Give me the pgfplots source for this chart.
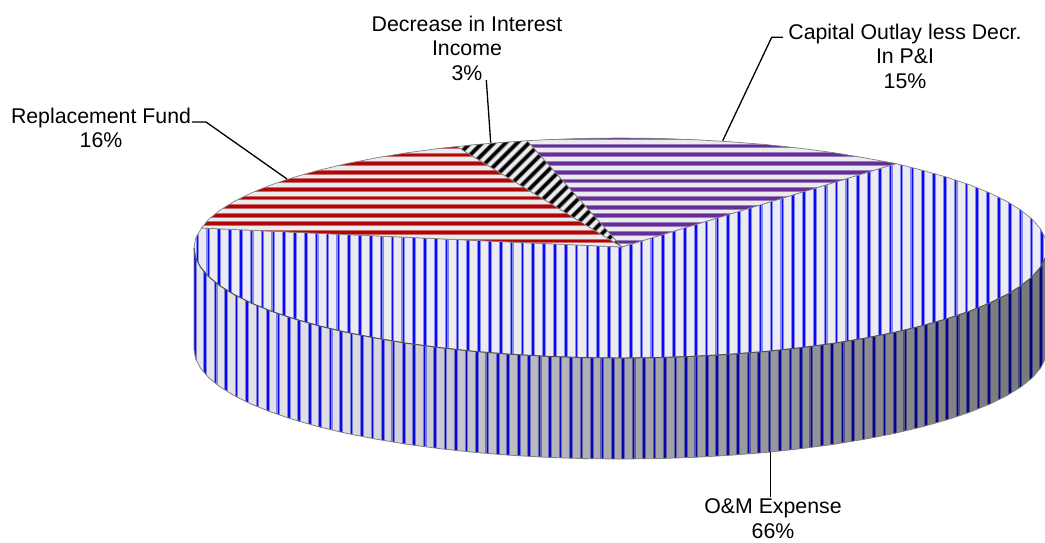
\documentclass[border=0pt]{standalone}
\usepackage{fontspec}
\setmainfont{Liberation Sans}
\usepackage{pgfplots}
\pgfplotsset{compat=1.18}
\definecolor{edgegray}{HTML}{808080}
\definecolor{lipgray}{HTML}{505050}
\definecolor{stripebase}{HTML}{ECECF0}
\definecolor{sliceblue}{HTML}{0A0AF5}
\definecolor{haloblue}{HTML}{8888F4}
\definecolor{slicered}{HTML}{B00606}
\definecolor{halored}{HTML}{CC6868}
\definecolor{slicepurple}{HTML}{662C9A}
\definecolor{halopurple}{HTML}{9A7CBC}
\definecolor{halogray}{HTML}{707070}
\pgfdeclarehorizontalshading{wallshade}{100bp}{
	color(0bp)=(rgb,1:red,0.8;green,0.8;blue,1);
	color(15bp)=(rgb,1:red,1;green,1;blue,1);
	color(33bp)=(rgb,1:red,0.95;green,0.95;blue,0.95);
	color(50bp)=(rgb,1:red,0.72;green,0.72;blue,0.72);
	color(70bp)=(rgb,1:red,0.55;green,0.55;blue,0.55);
	color(85bp)=(rgb,1:red,0.42;green,0.42;blue,0.44);
	color(100bp)=(rgb,1:red,0.32;green,0.32;blue,0.38)}
% stripes are drawn in pixel units of the axis, clipped to the slice
\newcommand\vstripes[3]{%
	\tikzset{every path/.style={}}%
	\foreach \k in {0,...,90} {
		\pgfmathsetmacro\sx{#1+#2*\k}
		\draw[haloblue, line width=3.8pt] (axis cs:\sx,#3) -- (axis cs:\sx,480);
		\draw[sliceblue, line width=1.6pt] (axis cs:\sx,#3) -- (axis cs:\sx,480);
	}}
\newcommand\hstripes[4]{%
	\tikzset{every path/.style={}}%
	\foreach \k in {0,...,16} {
		\pgfmathsetmacro\sy{#1+#2*\k}
		\draw[#4, line width=4.8pt] (axis cs:190,\sy) -- (axis cs:900,\sy);
		\draw[#3, line width=2.8pt] (axis cs:190,\sy) -- (axis cs:900,\sy);
	}}
\newcommand\dstripes{%
	\tikzset{every path/.style={}}%
	\foreach \k in {0,...,26} {
		\pgfmathsetmacro\sa{590+11.7*\k-130}
		\pgfmathsetmacro\sb{590+11.7*\k-250}
		\draw[halogray, line width=4.6pt] (axis cs:\sa,130) -- (axis cs:\sb,250);
		\draw[black, line width=2.8pt] (axis cs:\sa,130) -- (axis cs:\sb,250);
	}}
\begin{document}
\begin{tikzpicture}
	\useasboundingbox (0,0) rectangle (1045pt,542pt);
	\begin{axis}[
			scale only axis,
			width=1045pt,
			height=542pt,
			xmin=0, xmax=1045,
			ymin=0, ymax=542,
			y dir=reverse,
			hide axis,
			clip=true,
			clip mode=individual,
		]
		% outer wall of the O&M slice
		\addplot[draw=none, fill=stripebase, path picture={\vstripes{184.3}{10.45}{240}}] coordinates {
			(194,248) (194,349) (195.6,358.6) (200.5,368.1) (208.5,377.5) (219.7,386.6) (234,395.5) (251.1,404) (271.1,412.1) (293.8,419.7) (318.9,426.8) (346.3,433.3) (375.9,439.1) (407.2,444.3) (440.3,448.7) (474.6,452.4) (510.1,455.2) (546.5,457.3) (583.3,458.6) (620.5,459)
			(657.7,458.6) (694.5,457.3) (730.9,455.2) (766.4,452.4) (800.7,448.7) (833.8,444.3) (865.1,439.1) (894.7,433.3) (922.1,426.8) (947.2,419.7) (969.9,412.1) (989.9,404) (1007,395.5) (1021.3,386.6) (1032.5,377.5) (1040.5,368.1) (1045.4,358.6) (1047,349) (1047,248)
		} --cycle;
		\addplot[draw=none, shading=wallshade, blend mode=multiply] coordinates {
			(194,248) (194,349) (195.6,358.6) (200.5,368.1) (208.5,377.5) (219.7,386.6) (234,395.5) (251.1,404) (271.1,412.1) (293.8,419.7) (318.9,426.8) (346.3,433.3) (375.9,439.1) (407.2,444.3) (440.3,448.7) (474.6,452.4) (510.1,455.2) (546.5,457.3) (583.3,458.6) (620.5,459)
			(657.7,458.6) (694.5,457.3) (730.9,455.2) (766.4,452.4) (800.7,448.7) (833.8,444.3) (865.1,439.1) (894.7,433.3) (922.1,426.8) (947.2,419.7) (969.9,412.1) (989.9,404) (1007,395.5) (1021.3,386.6) (1032.5,377.5) (1040.5,368.1) (1045.4,358.6) (1047,349) (1047,248)
		} --cycle;
		\addplot[draw=edgegray, line width=0.8pt] coordinates {
			(194,248) (194,349) (195.6,358.6) (200.5,368.1) (208.5,377.5) (219.7,386.6) (234,395.5) (251.1,404) (271.1,412.1) (293.8,419.7) (318.9,426.8) (346.3,433.3) (375.9,439.1) (407.2,444.3) (440.3,448.7) (474.6,452.4) (510.1,455.2) (546.5,457.3) (583.3,458.6) (620.5,459)
			(657.7,458.6) (694.5,457.3) (730.9,455.2) (766.4,452.4) (800.7,448.7) (833.8,444.3) (865.1,439.1) (894.7,433.3) (922.1,426.8) (947.2,419.7) (969.9,412.1) (989.9,404) (1007,395.5) (1021.3,386.6) (1032.5,377.5) (1040.5,368.1) (1045.4,358.6) (1047,349)
		};
		% top of the O&M slice, 66%
		\addplot[draw=edgegray, line width=0.7pt, fill=stripebase, path picture={\vstripes{186.7}{10.83}{150}}] coordinates {
			(621.7,247) (201.5,228) (195.6,238.4) (194,248) (195.6,257.6) (200.5,267.1) (208.5,276.5) (219.7,285.6) (234,294.5) (251.1,303) (271.1,311.1) (293.8,318.7) (318.9,325.8) (346.3,332.3) (375.9,338.1) (407.2,343.3) (440.3,347.7) (474.6,351.4) (510.1,354.2) (546.5,356.3) (583.3,357.6) (620.5,358)
			(657.7,357.6) (694.5,356.3) (730.9,354.2) (766.4,351.4) (800.7,347.7) (833.8,343.3) (865.1,338.1) (894.7,332.3) (922.1,325.8) (947.2,318.7) (969.9,311.1) (989.9,303) (1007,294.5) (1021.3,285.6) (1032.5,276.5) (1040.5,267.1) (1045.4,257.6) (1047,248)
			(1045.4,238.4) (1040.5,228.9) (1032.5,219.5) (1021.3,210.4) (1007,201.5) (989.9,193) (969.9,184.9) (947.2,177.3) (922.1,170.2) (896,163.6)
		} --cycle;
		% dark lip under the top face
		\addplot[draw=lipgray, line width=0.9pt] coordinates {
			(194,248) (195.6,257.6) (200.5,267.1) (208.5,276.5) (219.7,285.6) (234,294.5) (251.1,303) (271.1,311.1) (293.8,318.7) (318.9,325.8) (346.3,332.3) (375.9,338.1) (407.2,343.3) (440.3,347.7) (474.6,351.4) (510.1,354.2) (546.5,356.3) (583.3,357.6) (620.5,358)
			(657.7,357.6) (694.5,356.3) (730.9,354.2) (766.4,351.4) (800.7,347.7) (833.8,343.3) (865.1,338.1) (894.7,332.3) (922.1,325.8) (947.2,318.7) (969.9,311.1) (989.9,303) (1007,294.5) (1021.3,285.6) (1032.5,276.5) (1040.5,267.1) (1045.4,257.6) (1047,248)
		};
		% Capital Outlay, 15%
		\addplot[draw=edgegray, line width=0.7pt, fill=stripebase, path picture={\hstripes{137.3}{8.73}{slicepurple}{halopurple}}] coordinates {
			(621.7,247) (896,163.6) (865.1,157.9) (833.8,152.7) (800.7,148.3) (766.4,144.6) (730.9,141.8) (694.5,139.7) (657.7,138.4) (620.5,138) (583.3,138.4) (546.5,139.7) (527,140.7)
		} --cycle;
		% Decrease in Interest Income, 3%
		\addplot[draw=edgegray, line width=0.7pt, fill=stripebase, path picture={\dstripes}] coordinates {
			(621.7,247) (527,140.7) (510.1,141.8) (474.6,144.6) (456.7,146.6)
		} --cycle;
		% Replacement Fund, 16%
		\addplot[draw=edgegray, line width=0.7pt, fill=stripebase, path picture={\hstripes{120.5}{8.6}{slicered}{halored}}] coordinates {
			(621.7,247) (456.7,146.6) (440.3,148.3) (407.2,152.7) (375.9,157.9) (346.3,163.7) (318.9,170.2) (293.8,177.3) (271.1,184.9) (251.1,193) (234,201.5) (219.7,210.4) (208.5,219.5) (201.5,228)
		} --cycle;
		% leader lines
		\addplot[black, line width=1.3pt] coordinates {(192,122) (206,122) (287,179)};
		\addplot[black, line width=1.3pt] coordinates {(486.3,80) (490.7,142.7)};
		\addplot[black, line width=1.3pt] coordinates {(783,37.3) (771.7,37.3) (722.7,140.7)};
		\addplot[black, line width=1.3pt] coordinates {(770.3,451.7) (770.3,496.7)};
		% labels
		\node[align=center, font=\fontsize{21.3}{24.5}\selectfont] at (axis cs:467,48) {Decrease in Interest\\Income\\3\%};
		\node[align=center, font=\fontsize{21.3}{24.5}\selectfont] at (axis cs:905,56) {Capital Outlay less Decr.\\In P\&I\\15\%};
		\node[align=center, font=\fontsize{21.3}{24.5}\selectfont] at (axis cs:101,128) {Replacement Fund\\16\%};
		\node[align=center, font=\fontsize{21.3}{24.5}\selectfont, inner sep=0pt] at (axis cs:773,518.5) {O\&M Expense\\66\%};
	\end{axis}
\end{tikzpicture}
\end{document}
